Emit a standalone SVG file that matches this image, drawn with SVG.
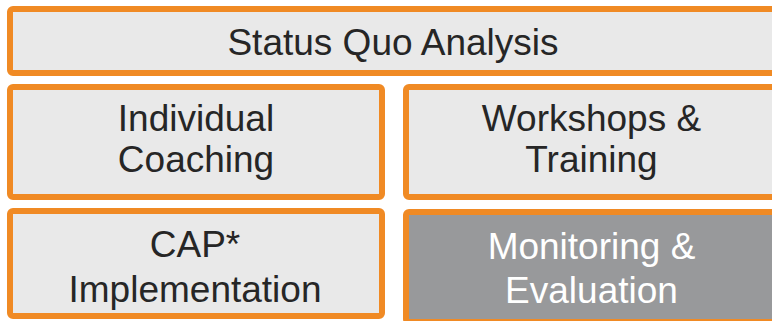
<svg xmlns="http://www.w3.org/2000/svg" width="772" height="321" viewBox="0 0 772 321">
  <style>
    .box { fill: #e9e9e9; stroke: #f08a24; stroke-width: 6; }
    .dark { fill: #98999b; stroke: #f08a24; stroke-width: 6; }
    .t { font-family: "Liberation Sans", Arial, sans-serif; font-size: 37px; fill: #262626; text-anchor: middle; }
    .w { fill: #ffffff; }
  </style>
  <rect width="772" height="321" fill="#ffffff"/>
  <g id="status-quo">
    <rect class="box" x="10" y="9" width="790" height="64" rx="3"/>
    <text class="t" x="393" y="54.5">Status Quo Analysis</text>
  </g>
  <g id="coaching">
    <rect class="box" x="10" y="87" width="372" height="110" rx="3"/>
    <text class="t" x="196" y="131">Individual</text>
    <text class="t" x="196" y="172">Coaching</text>
  </g>
  <g id="workshops">
    <rect class="box" x="406" y="87" width="400" height="110" rx="3"/>
    <text class="t" x="591.5" y="131">Workshops &amp;</text>
    <text class="t" x="591.5" y="172">Training</text>
  </g>
  <g id="cap">
    <rect class="box" x="10" y="211" width="372" height="105" rx="3"/>
    <text class="t" x="195" y="256.5">CAP*</text>
    <text class="t" x="195" y="301.5">Implementation</text>
  </g>
  <g id="monitoring">
    <rect class="dark" x="406" y="212" width="400" height="110" rx="3"/>
    <text class="t w" x="591.5" y="259">Monitoring &amp;</text>
    <text class="t w" x="591.5" y="303">Evaluation</text>
  </g>
  <g id="connectors"/>
</svg>
